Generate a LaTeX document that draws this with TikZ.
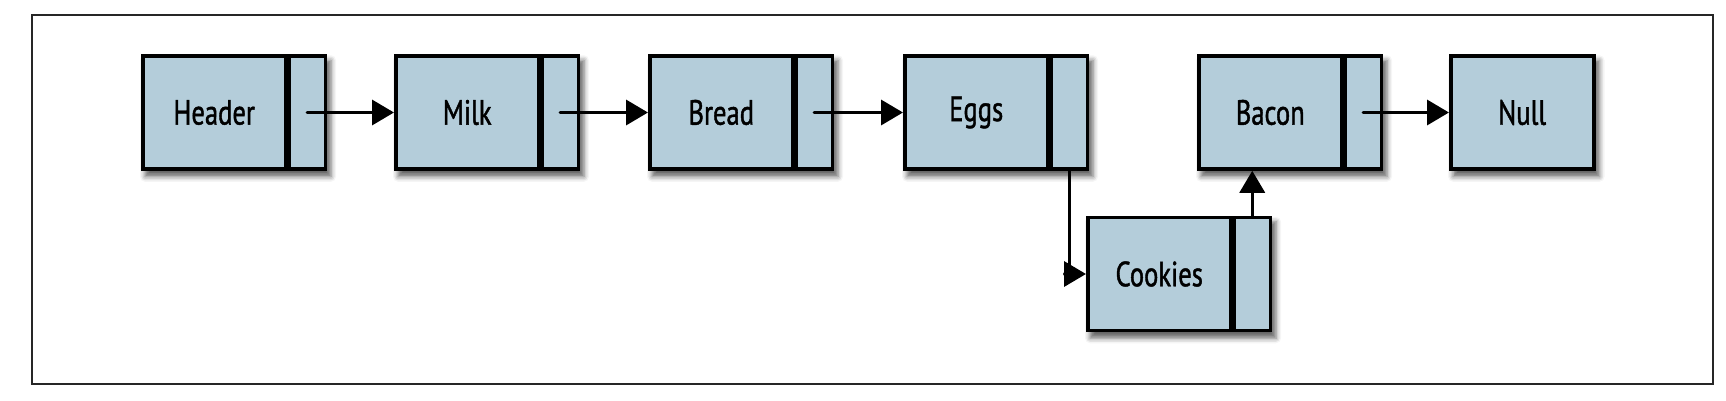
\documentclass[tikz,border=0pt]{standalone}
\usepackage{fontspec}
\setmainfont{PT Sans}[FakeStretch=0.76,FakeBold=1.2]
\usetikzlibrary{arrows.meta,shadows.blur,backgrounds}
\definecolor{cellblue}{RGB}{180,205,218}
\begin{document}
\begin{tikzpicture}[x=1pt,y=-1pt,
  cell/.style={draw=black, fill=cellblue, line width=3.5pt, inner sep=0pt,
    minimum height=113pt, anchor=west,
    font=\fontsize{35}{40}\selectfont},
  datacell/.style={cell, minimum width=143pt},
  ptrcell/.style={cell, minimum width=36pt},
  boxshadow/.style={blur shadow={shadow xshift=4pt, shadow yshift=-6pt, shadow blur radius=5pt, shadow opacity=60}},
  link/.style={line width=3.5pt, line cap=round, -{Triangle[length=22pt,width=25pt]}}
]
\useasboundingbox (0,0) rectangle (1726,400);
\draw[line width=1.5pt, black!85] (32,15) rectangle (1713,384);

\node[datacell] (header) at (141,112.5) {Header};
\node[ptrcell] (header-p) at (header.east) {};
\node[datacell] (milk) at (394,112.5) {Milk};
\node[ptrcell] (milk-p) at (milk.east) {};
\node[datacell] (bread) at (648,112.5) {Bread};
\node[ptrcell] (bread-p) at (bread.east) {};
\node[datacell] (eggs) at (903,112.5) {Eggs};
\node[ptrcell] (eggs-p) at (eggs.east) {};
\node[datacell] (bacon) at (1197,112.5) {Bacon};
\node[ptrcell] (bacon-p) at (bacon.east) {};
\node[datacell] (null) at (1449,112.5) {Null};
\node[datacell] (cookies) at (1086,274) {Cookies};
\node[ptrcell] (cookies-p) at (cookies.east) {};

\begin{scope}[on background layer]
  \path[boxshadow] (header.north west) rectangle (header-p.south east);
  \path[boxshadow] (milk.north west) rectangle (milk-p.south east);
  \path[boxshadow] (bread.north west) rectangle (bread-p.south east);
  \path[boxshadow] (eggs.north west) rectangle (eggs-p.south east);
  \path[boxshadow] (bacon.north west) rectangle (bacon-p.south east);
  \path[boxshadow] (null.north west) rectangle (null.south east);
  \path[boxshadow] (cookies.north west) rectangle (cookies-p.south east);
\end{scope}

\draw[link] (header-p.center) -- (milk.west);
\draw[link] (milk-p.center) -- (bread.west);
\draw[link] (bread-p.center) -- (eggs.west);
\draw[link] (eggs-p.south) |- (cookies.west);
\draw[link] (cookies-p.north) -- (cookies-p.north |- bacon.south);
\draw[link] (bacon-p.center) -- (null.west);
\end{tikzpicture}
\end{document}
